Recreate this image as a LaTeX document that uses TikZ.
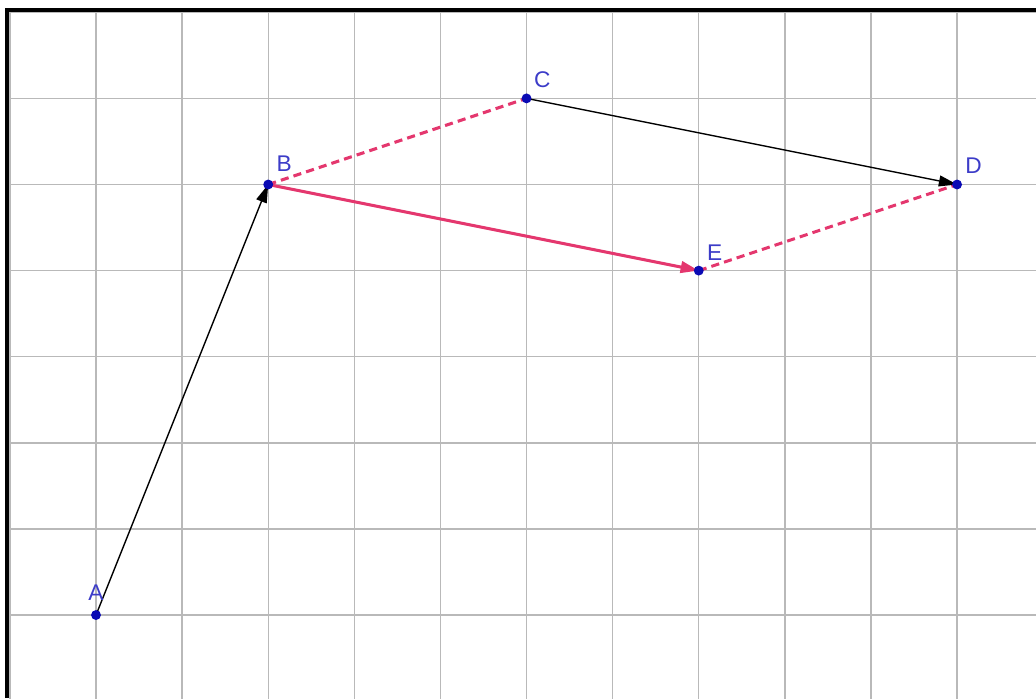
\documentclass[tikz,border=0pt]{standalone}
\usepackage{fontspec}
\setmainfont{Liberation Sans}
\usepackage{xcolor}
\usetikzlibrary{arrows.meta, positioning}

\definecolor{ptblue}{RGB}{10,10,180}
\definecolor{lblblue}{RGB}{60,60,200}
\definecolor{vecpink}{RGB}{228,55,110}

\begin{document}
\begin{tikzpicture}[
  pt/.style={circle, fill=ptblue, inner sep=0pt, minimum size=0.115cm},
  lbl/.style={text=lblblue, font=\fontsize{7.5}{9}\selectfont, inner sep=1pt},
  gridline/.style={gray!55, line width=0.45pt},
  frame/.style={black, line width=1.3pt},
  vec/.style={-{Triangle[length=6pt, width=3.6pt]}, line width=0.45pt},
  transl/.style={-{Triangle[length=6pt, width=3.8pt]}, vecpink, line width=1pt},
  aux/.style={vecpink, line width=1pt, dash pattern=on 2.7pt off 1.7pt}
]

\useasboundingbox (-1.115,-0.964) rectangle (10.917,7.143);

\begin{scope}
  \clip (-1.034,-0.964) rectangle (10.917,7.032);
  \draw[gridline, step=1] (-1,-1) grid (11,7);
\end{scope}
\draw[frame] (-1.034,-0.964) -- (-1.034,7.032) -- (10.917,7.032);

\coordinate (A) at (0,0);
\coordinate (B) at (2,5);
\coordinate (C) at (5,6);
\coordinate (D) at (10,5);
\coordinate (E) at (7,4);

\draw[aux] (B) -- (C);
\draw[aux] (E) -- (D);
\draw[vec] (A) -- (B);
\draw[vec] (C) -- (D);
\draw[transl] (B) -- (E);

\node[pt] (dotA) at (A) {};
\node[pt] (dotB) at (B) {};
\node[pt] (dotC) at (C) {};
\node[pt] (dotD) at (D) {};
\node[pt] (dotE) at (E) {};

\node[lbl, above=0.06cm of dotA] (labA) {A};
\node[lbl, above right=0.06cm and 0.01cm of dotB] (labB) {B};
\node[lbl, above right=0.04cm and 0.0cm of dotC] (labC) {C};
\node[lbl, above right=0.04cm and 0.01cm of dotD] (labD) {D};
\node[lbl, above right=0.03cm and 0.01cm of dotE] (labE) {E};

\end{tikzpicture}
\end{document}
